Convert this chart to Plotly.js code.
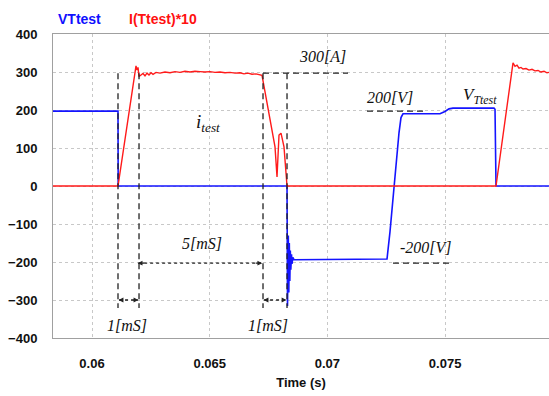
<!DOCTYPE html>
<html><head><meta charset="utf-8">
<script src="https://cdn.plot.ly/plotly-3.0.1.min.js"></script>
<style>html,body{margin:0;padding:0;background:#fff}#chart{width:549px;height:396px}</style>
</head><body><div id="chart"></div>
<script>
// VTtest (voltage) samples
const vTime = [0.058343, 0.061104, 0.061112, 0.068284, 0.068305, 0.068339, 0.068360, 0.068381, 0.068403, 0.068424, 0.068445, 0.068475, 0.068496, 0.068530, 0.068581, 0.072532, 0.072659, 0.072786, 0.072914, 0.073041, 0.073126, 0.073211, 0.074783, 0.074995, 0.075165, 0.075335, 0.077077, 0.077120, 0.077162, 0.079413];
const vVal  = [197, 197, 0, 0, -316, -130, -280, -150, -250, -170, -220, -180, -205, -188, -194, -192, -120, -30, 60, 140, 180, 190, 190, 196, 203, 205, 205, 202, 0, 0];

// I(Ttest)*10 samples
const iTime = [0.058343, 0.061104, 0.061869, 0.061912, 0.061954, 0.061997, 0.062082, 0.062166, 0.062251, 0.062336, 0.062421, 0.062506, 0.062591, 0.062719, 0.062889, 0.063101, 0.063313, 0.063526, 0.063738, 0.063951, 0.064163, 0.064375, 0.064588, 0.064800, 0.065013, 0.065225, 0.065437, 0.065650, 0.065862, 0.066075, 0.066287, 0.066457, 0.066627, 0.066797, 0.066967, 0.067137, 0.067222, 0.067774, 0.067859, 0.067944, 0.068029, 0.068156, 0.068284, 0.077162, 0.077884, 0.077969, 0.078054, 0.078139, 0.078224, 0.078309, 0.078436, 0.078564, 0.078691, 0.078819, 0.078946, 0.079074, 0.079201, 0.079328, 0.079413];
const iVal  = [0, 0, 316, 305, 312, 288, 292, 296, 290, 297, 292, 298, 294, 299, 297, 300, 298, 301, 299, 302, 300, 302, 301, 300, 301, 299, 300, 298, 299, 297, 298, 295, 297, 294, 295, 292, 291, 103, 24, 134, 139, 103, 0, 0, 324, 315, 318, 310, 312, 308, 309, 305, 307, 303, 304, 300, 302, 298, 299];

// Annotation marker positions (time, value)
const markTimes = [0.061104, 0.061997, 0.067264, 0.068284];
const yTicks = [-400, -300, -200, -100, 0, 100, 200, 300, 400];
const xTicks = [0.06, 0.065, 0.07, 0.075];
const xTickText = ['0.06', '0.065', '0.07', '0.075'];

const dash = {color: '#222', width: 1.3, dash: '6px,4px'};
const shapes = [];
markTimes.forEach(t => shapes.push({type: 'line', xref: 'x', yref: 'y', x0: t, x1: t, y0: 297, y1: -321, line: dash}));
shapes.push({type: 'line', xref: 'x', yref: 'y', x0: 0.067264, x1: 0.070875, y0: 297, y1: 297, line: dash});
shapes.push({type: 'line', xref: 'x', yref: 'y', x0: 0.071682, x1: 0.074188, y0: 197, y1: 197, line: dash});
shapes.push({type: 'line', xref: 'x', yref: 'y', x0: 0.072786, x1: 0.075293, y0: -203, y1: -203, line: dash});
shapes.push({type: 'line', xref: 'x', yref: 'y', x0: 0.061960, x1: 0.067180, y0: -203, y1: -203, line: {color: '#222', width: 1.3, dash: 'dot'}});
shapes.push({type: 'line', xref: 'x', yref: 'y', x0: 0.061150, x1: 0.061950, y0: -300, y1: -300, line: {color: '#222', width: 1.3, dash: 'dot'}});
shapes.push({type: 'line', xref: 'x', yref: 'y', x0: 0.067310, x1: 0.068240, y0: -300, y1: -300, line: {color: '#222', width: 1.3, dash: 'dot'}});

const serif = {family: 'Liberation Serif, Times New Roman, serif', size: 16, color: '#111'};
function lbl(x, y, text, size) {
  return {xref: 'x', yref: 'y', x: x, y: y, text: text, showarrow: false, font: Object.assign({}, serif, size ? {size: size} : {})};
}
function head(x, y, ax) {
  return {xref: 'x', yref: 'y', x: x, y: y, ax: ax, ay: 0, text: ' ', showarrow: true, arrowhead: 2, arrowsize: 0.8, arrowwidth: 1.2, arrowcolor: '#222', standoff: 0, font: {size: 1}};
}
const annotations = [
  {xref: 'paper', yref: 'paper', x: 0.006, y: 1.083, xanchor: 'left', showarrow: false, text: '<b>VTtest</b>', font: {family: 'Liberation Sans, Arial, sans-serif', size: 14, color: '#1010ff'}},
  {xref: 'paper', yref: 'paper', x: 0.149, y: 1.083, xanchor: 'left', showarrow: false, text: '<b>I(Ttest)*10</b>', font: {family: 'Liberation Sans, Arial, sans-serif', size: 14, color: '#ff1010'}},
  lbl(0.069770, 342, '<i>300[A]</i>'),
  lbl(0.064928, 166, '<i>i</i><sub><i>test</i></sub>', 19),
  lbl(0.072659, 234, '<i>200[V]</i>'),
  lbl(0.076482, 237, '<i>V</i><sub><i>Ttest</i></sub>', 17),
  lbl(0.074188, -163, '<i>-200[V]</i>'),
  lbl(0.064673, -150, '<i>5[mS]</i>'),
  lbl(0.061487, -366, '<i>1[mS]</i>'),
  lbl(0.067476, -366, '<i>1[mS]</i>'),
  head(0.061940, -203, 8), head(0.067230, -203, -8),
  head(0.061130, -300, 6), head(0.061970, -300, -6),
  head(0.067290, -300, 6), head(0.068260, -300, -6)
];

const data = [
  {x: vTime, y: vVal, type: 'scatter', mode: 'lines', line: {color: '#1414ff', width: 1.6}, hoverinfo: 'skip'},
  {x: iTime, y: iVal, type: 'scatter', mode: 'lines', line: {color: '#ff1a1a', width: 1.4}, hoverinfo: 'skip'}
];

const layout = {
  width: 549, height: 396,
  margin: {l: 53, r: 0, t: 34, b: 58},
  paper_bgcolor: '#fff', plot_bgcolor: '#fff',
  showlegend: false,
  xaxis: {
    range: [0.058343, 0.079413], tickvals: xTicks, ticktext: xTickText,
    showgrid: true, gridcolor: '#c8c8c8', griddash: 'dot', gridwidth: 1,
    showline: true, linecolor: '#a0a0a0', linewidth: 1, mirror: true,
    zeroline: false, ticks: 'outside', ticklen: 13, tickcolor: 'rgba(0,0,0,0)',
    tickfont: {family: 'Liberation Sans, Arial, sans-serif', size: 13, color: '#111', weight: 'bold'},
    title: {text: '<b>Time (s)</b>', font: {family: 'Liberation Sans, Arial, sans-serif', size: 13, color: '#111'}, standoff: 8}
  },
  yaxis: {
    range: [-400, 400], tickvals: yTicks,
    showgrid: true, gridcolor: '#c8c8c8', griddash: 'dot', gridwidth: 1,
    showline: true, linecolor: '#a0a0a0', linewidth: 1, mirror: true,
    zeroline: false, ticks: 'outside', ticklen: 12, tickcolor: 'rgba(0,0,0,0)',
    tickfont: {family: 'Liberation Sans, Arial, sans-serif', size: 13, color: '#111', weight: 'bold'}
  },
  shapes: shapes,
  annotations: annotations
};
Plotly.newPlot('chart', data, layout, {displayModeBar: false, staticPlot: true});
</script></body></html>
